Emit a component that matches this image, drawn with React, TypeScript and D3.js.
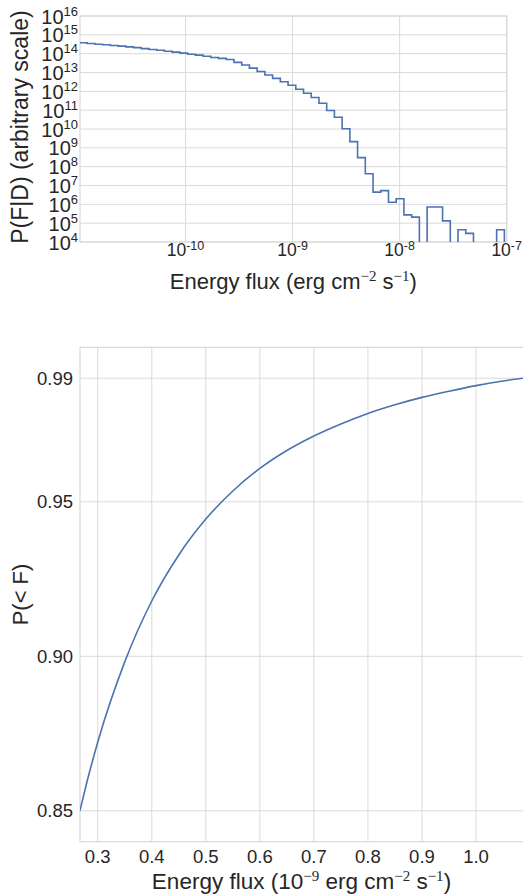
import React from 'react';
import * as d3 from 'd3';

// top panel: histogram of P(F|D), log10 of each bin (null = empty bin)
const binStartLog = -10.99;
const binWidthLog = 0.07215;
const densityLog10 = [
  14.58, 14.54, 14.5, 14.47, 14.43, 14.4, 14.36, 14.32, 14.27, 14.22,
  14.18, 14.13, 14.08, 14.03, 13.97, 13.92, 13.86, 13.8, 13.75, 13.69,
  13.54, 13.4, 13.23, 13.05, 12.87, 12.69, 12.51, 12.32, 12.11, 11.9,
  11.67, 11.37, 10.98, 10.62, 10.01, 9.33, 8.48, 7.62, 6.65, 6.73,
  6.11, 6.3, 5.44, 5.32, null, 5.86, 5.86, 5.12, null, 4.65,
  4.46, null, null, null, 4.65, null,
];
const topYTickExp = [4, 5, 6, 7, 8, 9, 10, 11, 12, 13, 14, 15, 16];
const topXTickExp = [-10, -9, -8, -7];

// bottom panel: cumulative P(<F)
const fluxValues = [0.267, 0.28, 0.3, 0.35, 0.4, 0.45, 0.5, 0.55, 0.6, 0.65, 0.7, 0.75, 0.8, 0.85, 0.9, 0.95, 1.0, 1.05, 1.087];
const cumulativeP = [0.85, 0.8593, 0.8722, 0.8982, 0.9179, 0.9328, 0.9444, 0.9535, 0.9608, 0.9666, 0.9713, 0.9752, 0.9786, 0.9814, 0.9838, 0.9858, 0.9876, 0.9891, 0.99];
const botXTicks = [0.3, 0.4, 0.5, 0.6, 0.7, 0.8, 0.9, 1.0];
const botYTicks = [0.85, 0.9, 0.95, 0.99];

const FONT = 'Liberation Sans, Arial, sans-serif';
const MATH = 'Liberation Serif, DejaVu Serif, serif';
const TXT = '#262626';
const GRID = '#dadada';
const LINE = '#4c72b0';

export default function App() {
  // ---- top panel
  const t = { l: 80, r: 506.7, t: 16, b: 242 };
  const x1 = d3.scaleLog().domain([Math.pow(10, -10.985), 1e-7]).range([t.l, t.r]);
  const y1 = d3.scaleLog().domain([1e4, 1e16]).range([t.b, t.t]);

  const pts: [number, number | null][] = densityLog10.map((v, k) => [binStartLog + k * binWidthLog, v]);
  pts.push([binStartLog + densityLog10.length * binWidthLog, densityLog10[densityLog10.length - 1]]);
  const stepPath = d3
    .line<[number, number | null]>()
    .curve(d3.curveStepAfter)
    .x((d) => x1(Math.pow(10, d[0])))
    .y((d) => (d[1] === null ? y1(1) : y1(Math.pow(10, d[1]))))(pts);

  // ---- bottom panel
  const b = { l: 80, r: 524.5, t: 347.3, b: 841.7 };
  const x2 = d3.scaleLinear().domain([0.2672, 1.0897]).range([b.l, b.r]);
  const y2 = d3.scaleLinear().domain([0.84, 1.0]).range([b.b, b.t]);
  const cdfPath = d3
    .line<number>()
    .curve(d3.curveMonotoneX)
    .x((d) => x2(d))
    .y((d, i) => y2(cumulativeP[i]))(fluxValues);

  return (
    <svg width={523} height={895} style={{ position: 'absolute', left: 0, top: 0, background: '#fff' }} fontFamily={FONT}>
      <defs>
        <clipPath id="clipTop">
          <rect x={t.l} y={t.t} width={t.r - t.l} height={t.b - t.t} />
        </clipPath>
        <clipPath id="clipBot">
          <rect x={b.l} y={b.t} width={b.r - b.l} height={b.b - b.t} />
        </clipPath>
      </defs>

      {/* top grid */}
      {topYTickExp.map((e) => (
        <line key={'gy' + e} x1={t.l} x2={t.r} y1={y1(Math.pow(10, e))} y2={y1(Math.pow(10, e))} stroke={GRID} strokeWidth={1} />
      ))}
      {topXTickExp.map((e) => (
        <line key={'gx' + e} x1={x1(Math.pow(10, e))} x2={x1(Math.pow(10, e))} y1={t.t} y2={t.b} stroke={GRID} strokeWidth={1} />
      ))}
      <rect x={t.l} y={t.t} width={t.r - t.l} height={t.b - t.t} fill="none" stroke={GRID} strokeWidth={1.25} />
      <path d={stepPath || ''} fill="none" stroke={LINE} strokeWidth={1.6} clipPath="url(#clipTop)" />

      {topYTickExp.map((e) => (
        <text key={'ty' + e} x={78} y={y1(Math.pow(10, e)) + 7.5} textAnchor="end" fill={TXT} fontSize={20}>
          10<tspan fontSize={13} dy={-8}>{e}</tspan>
        </text>
      ))}
      {topXTickExp.map((e) => (
        <text key={'tx' + e} x={x1(Math.pow(10, e))} y={256} textAnchor="middle" fill={TXT} fontSize={17.5}>
          10<tspan fontSize={12.5} dy={-6.5}>{e}</tspan>
        </text>
      ))}
      <text x={(t.l + t.r) / 2} y={289} textAnchor="middle" fill={TXT} fontSize={22}>
        Energy flux (erg cm<tspan fontFamily={MATH} fontSize={15} dy={-8}>−2</tspan>
        <tspan dy={8}> s</tspan>
        <tspan fontFamily={MATH} fontSize={15} dy={-8}>−1</tspan>
        <tspan dy={8}>)</tspan>
      </text>
      <text transform={`translate(28,${(t.t + t.b) / 2 - 2}) rotate(-90)`} textAnchor="middle" fill={TXT} fontSize={23}>
        P(F|D) (arbitrary scale)
      </text>

      {/* bottom grid */}
      {botYTicks.map((v) => (
        <line key={'by' + v} x1={b.l} x2={b.r} y1={y2(v)} y2={y2(v)} stroke={GRID} strokeWidth={1} />
      ))}
      {botXTicks.map((v) => (
        <line key={'bx' + v} x1={x2(v)} x2={x2(v)} y1={b.t} y2={b.b} stroke={GRID} strokeWidth={1} />
      ))}
      <rect x={b.l} y={b.t} width={b.r - b.l} height={b.b - b.t} fill="none" stroke={GRID} strokeWidth={1.25} />
      <path d={cdfPath || ''} fill="none" stroke={LINE} strokeWidth={1.6} clipPath="url(#clipBot)" />

      {botYTicks.map((v) => (
        <text key={'ly' + v} x={73} y={y2(v) + 6.5} textAnchor="end" fill={TXT} fontSize={18.5}>
          {v.toFixed(2)}
        </text>
      ))}
      {botXTicks.map((v) => (
        <text key={'lx' + v} x={x2(v)} y={863} textAnchor="middle" fill={TXT} fontSize={18.5}>
          {v.toFixed(1)}
        </text>
      ))}
      <text x={(b.l + 523) / 2} y={889} textAnchor="middle" fill={TXT} fontSize={22.5}>
        Energy flux (10<tspan fontFamily={MATH} fontSize={15} dy={-8}>−9</tspan>
        <tspan dy={8}> erg cm</tspan>
        <tspan fontFamily={MATH} fontSize={15} dy={-8}>−2</tspan>
        <tspan dy={8}> s</tspan>
        <tspan fontFamily={MATH} fontSize={15} dy={-8}>−1</tspan>
        <tspan dy={8}>)</tspan>
      </text>
      <text transform={`translate(28,${(b.t + b.b) / 2}) rotate(-90)`} textAnchor="middle" fill={TXT} fontSize={22}>
        P(&lt; F)
      </text>
    </svg>
  );
}
